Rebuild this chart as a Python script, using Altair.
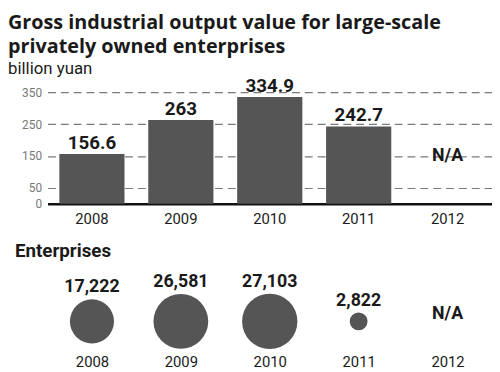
import altair as alt
import pandas as pd

years = ["2008", "2009", "2010", "2011", "2012"]
output_values = [156.6, 263, 334.9, 242.7, None]
output_labels = ["156.6", "263", "334.9", "242.7", "N/A"]
enterprise_counts = [17222, 26581, 27103, 2822, None]
enterprise_labels = ["17,222", "26,581", "27,103", "2,822", "N/A"]
y_ticks = [0, 50, 150, 250, 350]

df_out = pd.DataFrame({"year": years, "value": output_values, "label": output_labels})
df_ent = pd.DataFrame({"year": years, "count": enterprise_counts, "label": enterprise_labels})

FONT = "Roboto"
TFONT = "Open Sans"
DARK = "#555555"
TXT = "#1a1a1a"

xscale = alt.Scale(domain=years, paddingInner=0.267, paddingOuter=0.133)

# ---------- top: bar chart ----------
top_base = alt.Chart(df_out).encode(
    x=alt.X("year:N", scale=xscale, sort=years,
            axis=alt.Axis(title=None, labelAngle=0, domainColor="#111", domainWidth=2.5,
                          ticks=False, labelFontSize=15, labelColor=TXT, labelPadding=8,
                          labelFont=FONT))
)
yscale = alt.Scale(domain=[0, 350], nice=False)
yaxis = alt.Axis(values=y_ticks, title=None, grid=True, gridDash=[8, 5],
                 gridColor="#7a7a7a", gridWidth=1.2, domain=False, ticks=False,
                 labelOverlap=False, labelFontSize=12, labelColor="#777",
                 labelPadding=6, labelFont=FONT)
bars = top_base.transform_filter("isValid(datum.value)").mark_bar(color=DARK).encode(
    y=alt.Y("value:Q", scale=yscale, axis=yaxis)
)
bar_labels = top_base.transform_filter("isValid(datum.value)").mark_text(
    font=FONT, fontSize=19, fontWeight="bold", color=TXT, baseline="bottom", dy=-1
).encode(y=alt.Y("value:Q", scale=yscale, axis=yaxis), text="label:N")
na_top = top_base.transform_filter("!isValid(datum.value)").transform_calculate(
    pos="150"
).mark_text(
    font=FONT, fontSize=18, fontWeight="bold", color=TXT, baseline="middle"
).encode(y=alt.Y("pos:Q", scale=yscale, axis=yaxis), text="label:N")

top = alt.layer(bars, bar_labels, na_top).properties(width=450, height=113)

# ---------- bottom: bubbles ----------
CY = 55
DMAX = 56
bot_base = alt.Chart(df_ent).encode(
    x=alt.X("year:N", scale=xscale, sort=years,
            axis=alt.Axis(title=None, labelAngle=0, domain=False, ticks=False,
                          labelFontSize=15, labelColor=TXT, labelPadding=4, labelFont=FONT))
)
bubbles = bot_base.transform_filter("isValid(datum.count)").mark_circle(
    color=DARK, opacity=1
).encode(
    y=alt.value(CY),
    size=alt.Size("count:Q", scale=alt.Scale(domain=[0, 27103], range=[0, DMAX * DMAX]),
                  legend=None),
)
bub_labels = bot_base.transform_filter("isValid(datum.count)").transform_calculate(
    ly=f"{CY} - {DMAX / 2}*sqrt(datum.count/27103) - 12"
).mark_text(font=FONT, fontSize=18, fontWeight="bold", color=TXT, baseline="middle").encode(
    y=alt.Y("ly:Q", scale=None), text="label:N"
)
na_bot = bot_base.transform_filter("!isValid(datum.count)").mark_text(
    font=FONT, fontSize=18, fontWeight="bold", color=TXT, baseline="middle"
).encode(y=alt.value(CY - 7), text="label:N")

bottom = alt.layer(bubbles, bub_labels, na_bot).properties(
    width=450, height=85,
    title=alt.TitleParams("Enterprises", anchor="start", font=FONT, fontSize=19,
                          fontWeight="bold", color=TXT, dx=-33, offset=6),
)

chart = alt.vconcat(top, bottom, spacing=16).properties(
    padding={"left": 0, "top": 2, "right": 0, "bottom": 0},
    title=alt.TitleParams(
        text=["Gross industrial output value for large-scale", "privately owned enterprises"],
        subtitle="billion yuan", anchor="start", font=TFONT, fontSize=20, fontWeight="bold",
        lineHeight=24, color=TXT, subtitleFont=FONT, subtitleFontSize=17, subtitleColor=TXT,
        subtitlePadding=5, offset=0, dx=-7,
    ),
).configure_view(stroke=None)

chart.save("out.html", embed_options={"renderer": "svg", "actions": False})
